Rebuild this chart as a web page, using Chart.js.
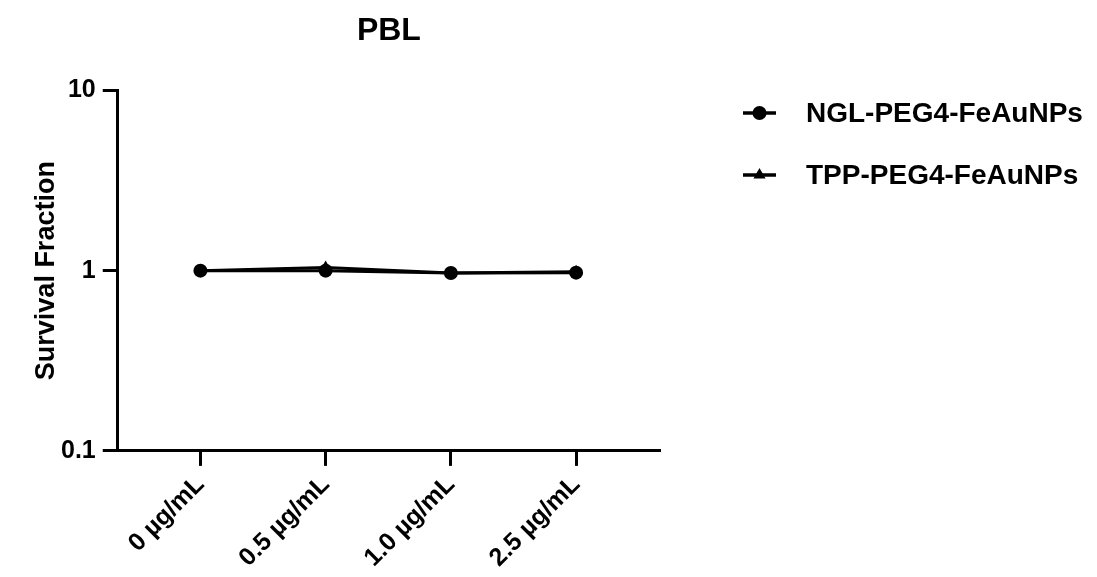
<!DOCTYPE html>
<html>
<head>
<meta charset="utf-8">
<script src="https://cdn.jsdelivr.net/npm/chart.js@4/dist/chart.umd.min.js"></script>
<style>
  html, body { margin: 0; padding: 0; background: #fff; }
  #wrap { width: 1097px; height: 577px; }
</style>
</head>
<body>
<div id="wrap"><canvas id="myChart" width="1097" height="577"></canvas></div>
<script>
const FONT = '"Liberation Sans", Arial, Helvetica, sans-serif';

// data
const doses = ['0 µg/mL', '0.5 µg/mL', '1.0 µg/mL', '2.5 µg/mL'];
const nglValues = [1.0, 1.0, 0.97, 0.975];
const tppValues = [1.0, 1.04, 0.97, 0.985];
const yTicks = [0.1, 1, 10];

const toPoints = vals => vals.map((v, i) => ({ x: i, y: v }));

// legend drawn at the right, line + marker like the original
const sideLegend = {
  id: 'sideLegend',
  afterDraw(chart) {
    const ctx = chart.ctx;
    const x0 = 743, x1 = 776, textX = 806;
    let y = 113;
    ctx.save();
    chart.data.datasets.forEach(ds => {
      ctx.strokeStyle = '#000';
      ctx.fillStyle = '#000';
      ctx.lineWidth = 3.5;
      ctx.beginPath();
      ctx.moveTo(x0, y);
      ctx.lineTo(x1, y);
      ctx.stroke();
      Chart.helpers.drawPoint(ctx, {
        pointStyle: ds.pointStyle,
        radius: 7,
        rotation: 0,
        borderWidth: 0
      }, (x0 + x1) / 2, y);
      ctx.font = 'bold 28px ' + FONT;
      ctx.textBaseline = 'middle';
      ctx.textAlign = 'left';
      ctx.fillText(ds.label, textX, y + 1);
      y += 62;
    });
    ctx.restore();
  }
};

const ctx = document.getElementById('myChart');
new Chart(ctx, {
  type: 'line',
  data: {
    datasets: [{
      label: 'NGL-PEG4-FeAuNPs',
      data: toPoints(nglValues),
      pointStyle: 'circle',
      borderColor: '#000',
      backgroundColor: '#000',
      borderWidth: 3,
      pointRadius: 7,
      pointBorderWidth: 0,
      tension: 0
    }, {
      label: 'TPP-PEG4-FeAuNPs',
      data: toPoints(tppValues),
      pointStyle: 'triangle',
      borderColor: '#000',
      backgroundColor: '#000',
      borderWidth: 3,
      pointRadius: 7,
      pointBorderWidth: 0,
      tension: 0
    }]
  },
  options: {
    responsive: false,
    animation: false,
    layout: { padding: { left: 7, right: 437, top: 0, bottom: 0 } },
    plugins: {
      legend: { display: false },
      tooltip: { enabled: false },
      title: {
        display: true,
        text: 'PBL',
        fullSize: false,
        color: '#000',
        font: { family: FONT, size: 32, weight: 'bold' },
        padding: { top: 12, bottom: 40 }
      }
    },
    scales: {
      x: {
        type: 'linear',
        min: -0.66,
        max: 3.67,
        afterBuildTicks: s => { s.ticks = doses.map((_, i) => ({ value: i })); },
        ticks: {
          callback: v => doses[v],
          color: '#000',
          font: { family: FONT, size: 25, weight: 'bold' },
          minRotation: 45,
          maxRotation: 45,
          padding: 4
        },
        grid: {
          drawOnChartArea: false,
          drawTicks: true,
          tickLength: 15,
          tickWidth: 3,
          tickColor: '#000'
        },
        border: { display: true, color: '#000', width: 3 }
      },
      y: {
        type: 'logarithmic',
        min: 0.1,
        max: 10,
        afterBuildTicks: s => { s.ticks = yTicks.map(v => ({ value: v })); },
        ticks: {
          callback: v => String(v),
          color: '#000',
          font: { family: FONT, size: 25, weight: 'bold' },
          padding: 7
        },
        grid: {
          drawOnChartArea: false,
          drawTicks: true,
          tickLength: 15,
          tickWidth: 3,
          tickColor: '#000'
        },
        border: { display: true, color: '#000', width: 3 },
        title: {
          display: true,
          text: 'Survival Fraction',
          color: '#000',
          font: { family: FONT, size: 27, weight: 'bold', lineHeight: 1 },
          padding: { top: 26, bottom: -6 }
        }
      }
    }
  },
  plugins: [sideLegend]
});
</script>
</body>
</html>
